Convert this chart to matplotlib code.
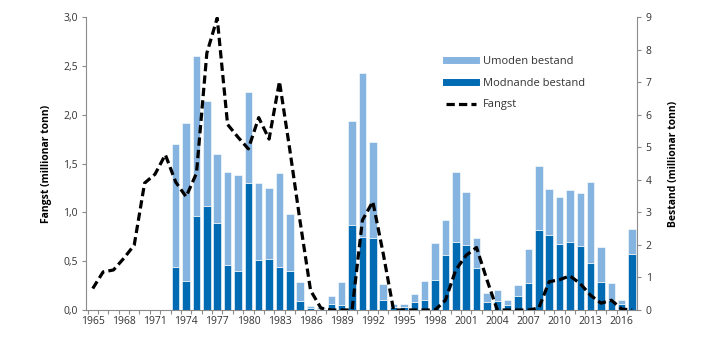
import matplotlib
matplotlib.use("Agg")
import matplotlib.pyplot as plt
from matplotlib.lines import Line2D
import numpy as np

plt.rcParams['font.family'] = ['Open Sans', 'DejaVu Sans']

years = list(range(1965, 2018))
fangst = [0.22, 0.39, 0.41, 0.53, 0.665, 1.30, 1.39, 1.59, 1.31, 1.16,
          1.40, 2.63, 2.99, 1.90, 1.77, 1.65, 1.97, 1.75, 2.34, 1.64,
          0.90, 0.20, 0.02, 0.0, 0.0, 0.0, 0.92, 1.11, 0.58, 0.0,
          0.0, 0.0, 0.0, 0.0, 0.10, 0.41, 0.56, 0.64, 0.31, 0.0,
          0.0, 0.0, 0.0, 0.02, 0.29, 0.31, 0.35, 0.27, 0.15, 0.07,
          0.10, 0.01, 0.0]

bar_years = list(range(1973, 2018))
modnande = [1.33, 0.89, 2.89, 3.18, 2.66, 1.38, 1.21, 3.90, 1.54, 1.57,
            1.32, 1.20, 0.28, 0.05, 0.02, 0.19, 0.16, 2.60, 2.24, 2.22,
            0.32, 0.10, 0.09, 0.25, 0.31, 0.92, 1.70, 2.09, 1.99, 1.28,
            0.26, 0.28, 0.16, 0.43, 0.84, 2.45, 2.30, 2.03, 2.10, 1.97,
            1.45, 0.86, 0.31, 0.17, 1.71]
umoden = [3.78, 4.84, 4.90, 3.23, 2.12, 2.85, 2.94, 2.81, 2.36, 2.19,
          2.90, 1.75, 0.57, 0.07, 0.06, 0.24, 0.69, 3.22, 5.04, 2.93,
          0.47, 0.08, 0.09, 0.24, 0.59, 1.13, 1.06, 2.16, 1.63, 0.92,
          0.25, 0.33, 0.15, 0.35, 1.03, 1.97, 1.43, 1.45, 1.59, 1.61,
          2.49, 1.07, 0.52, 0.15, 0.78]

xtick_years = list(range(1965, 2017, 3))

c_light = '#85B4E0'
c_dark = '#006AB3'
axis_col = '#8C8C8C'
text_col = '#333333'

fig = plt.figure(figsize=(7.19, 3.62), dpi=100)
ax = fig.add_axes([0.1196, 0.1436, 0.7668, 0.8094])
ax2 = ax.twinx()

# Bars on right axis (Bestand)
ax2.bar(bar_years, modnande, width=0.72, color=c_dark, edgecolor='white', linewidth=0.4, zorder=2)
ax2.bar(bar_years, umoden, bottom=modnande, width=0.72, color=c_light, edgecolor='white', linewidth=0.4, zorder=2)

# Line on left axis (Fangst), drawn on top
ax.set_zorder(ax2.get_zorder() + 1)
ax.patch.set_visible(False)
ax.plot(years, fangst, color='black', linewidth=2.3, linestyle=(0, (2.6, 1.3)), zorder=3)

ax.set_xlim(1964.35, 2017.5)
ax.set_ylim(0, 3.0)
ax2.set_ylim(0, 9)

ax.set_yticks(np.arange(0, 3.01, 0.5))
ax.set_yticklabels([f"{v:.1f}".replace('.', ',') for v in np.arange(0, 3.01, 0.5)])
ax2.set_yticks(range(0, 10))

ax.set_xticks(xtick_years)
ax.set_xticklabels([str(y) for y in xtick_years])
ax.set_xticks([y + 0.5 for y in range(1964, 2017)], minor=True)
ax.tick_params(axis='x', which='major', length=0, pad=4)
ax.tick_params(axis='x', which='minor', length=3, color=axis_col, width=0.8, direction='out')

for a in (ax, ax2):
    a.spines['top'].set_visible(False)
    for s in ('left', 'right', 'bottom'):
        a.spines[s].set_color(axis_col)
        a.spines[s].set_linewidth(0.8)
    a.tick_params(labelsize=7.5, labelcolor=text_col, colors=axis_col, width=0.8)
ax.tick_params(axis='y', length=3, pad=3, labelcolor=text_col)
ax2.tick_params(axis='y', length=3, pad=3, labelcolor=text_col)
ax.tick_params(axis='x', labelcolor=text_col)
ax2.spines['bottom'].set_visible(False)
ax2.spines['left'].set_visible(False)
ax.spines['right'].set_visible(False)

ax.set_ylabel('Fangst (millionar tonn)', fontsize=7.5, fontweight='bold', color='black', labelpad=8)
ax2.set_ylabel('Bestand (millionar tonn)', fontsize=7.5, fontweight='bold', color='black', labelpad=12, rotation=90)

handles = [Line2D([0], [0], color=c_light, lw=5),
           Line2D([0], [0], color=c_dark, lw=5),
           Line2D([0], [0], color='black', lw=2.3, linestyle=(0, (2.6, 1.3)))]
labels = ['Umoden bestand', 'Modnande bestand', 'Fangst']
leg = ax.legend(handles, labels, loc='upper left', bbox_to_anchor=(0.635, 0.9), frameon=False,
                fontsize=8, handlelength=2.7, labelspacing=0.95, handletextpad=0.6)
for t in leg.get_texts():
    t.set_color(text_col)

fig.savefig('out.png', dpi=100)
